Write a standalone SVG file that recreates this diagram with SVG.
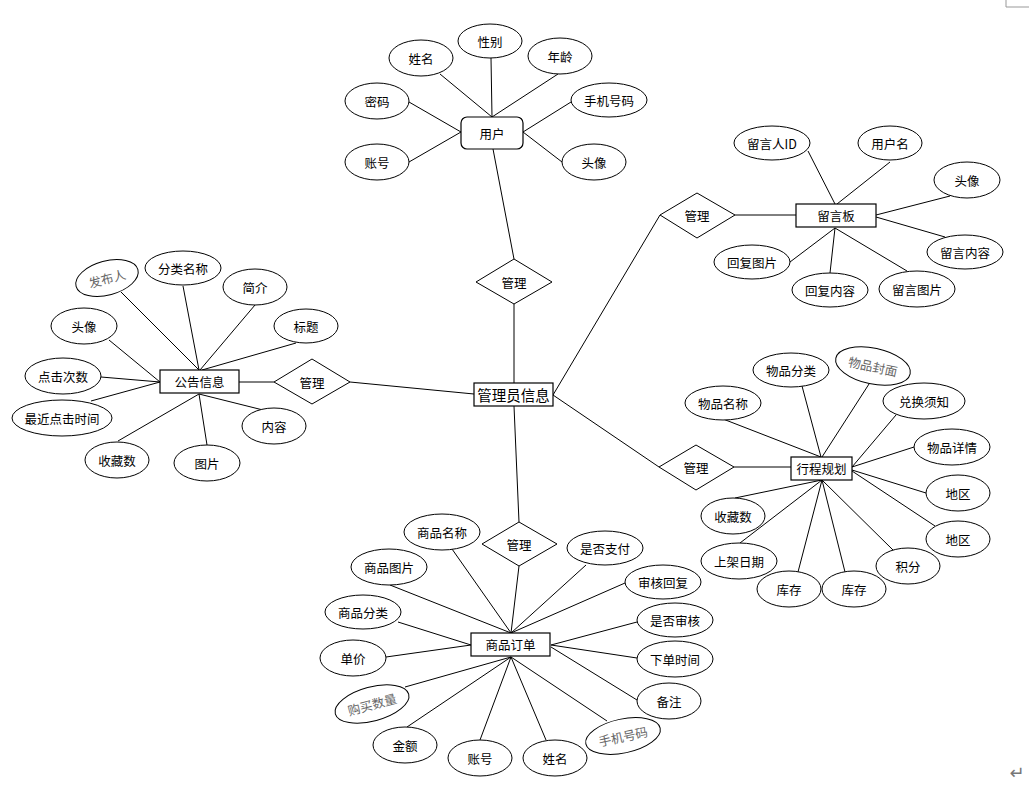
<svg xmlns="http://www.w3.org/2000/svg" width="1029" height="788" viewBox="0 0 1029 788">
<style>
text{font-family:"Noto Sans CJK SC","Noto Sans",sans-serif;font-size:12.5px;fill:#000;text-anchor:middle;dominant-baseline:central}
.e{fill:#fff;stroke:#000;stroke-width:1}
.r{fill:#fff;stroke:#000;stroke-width:1.2}
.d{fill:#fff;stroke:#000;stroke-width:1}
.g{fill:#666}
#links line{stroke:#000;stroke-width:1}
.big{font-size:14.5px}
</style>
<rect width="1029" height="788" fill="#fff"/>
<path d="M1006 0V7H1029" fill="none" stroke="#999" stroke-width="1"/>
<text x="1017" y="772" style="font-family:'DejaVu Sans',sans-serif;font-size:18px;fill:#777">↵</text>
<g id="links">
<!-- user -->
<line x1="440" y1="74" x2="492" y2="117"/>
<line x1="491" y1="58" x2="492" y2="117"/>
<line x1="558" y1="74" x2="492" y2="117"/>
<line x1="409" y1="102" x2="461" y2="132"/>
<line x1="409" y1="162" x2="461" y2="132"/>
<line x1="571" y1="102" x2="523" y2="132"/>
<line x1="562" y1="162" x2="523" y2="132"/>
<line x1="493" y1="149" x2="514" y2="259"/>
<line x1="514" y1="304" x2="514" y2="383"/>
<!-- admin -->
<line x1="350" y1="382" x2="474" y2="394"/>
<line x1="553" y1="395" x2="660" y2="215"/>
<line x1="553" y1="395" x2="659" y2="467"/>
<line x1="514" y1="406" x2="519" y2="522"/>
<!-- message board -->
<line x1="735" y1="215" x2="796" y2="215"/>
<line x1="808" y1="151" x2="835" y2="204"/>
<line x1="890" y1="162" x2="837" y2="204"/>
<line x1="950" y1="196" x2="876" y2="215"/>
<line x1="945" y1="237" x2="876" y2="217"/>
<line x1="790" y1="262" x2="835" y2="228"/>
<line x1="830" y1="273" x2="835" y2="228"/>
<line x1="907" y1="271" x2="835" y2="228"/>
<!-- notice -->
<line x1="239" y1="382" x2="274" y2="382"/>
<line x1="121" y1="292" x2="199" y2="370"/>
<line x1="183" y1="286" x2="199" y2="370"/>
<line x1="255" y1="305" x2="200" y2="370"/>
<line x1="296" y1="343" x2="202" y2="370"/>
<line x1="109" y1="340" x2="160" y2="382"/>
<line x1="101" y1="377" x2="160" y2="382"/>
<line x1="91" y1="401" x2="160" y2="382"/>
<line x1="118" y1="441" x2="199" y2="394"/>
<line x1="207" y1="445" x2="199" y2="394"/>
<line x1="263" y1="410" x2="199" y2="394"/>
<!-- itinerary -->
<line x1="734" y1="467" x2="791" y2="467"/>
<line x1="723" y1="419" x2="821" y2="457"/>
<line x1="802" y1="386" x2="821" y2="457"/>
<line x1="869" y1="384" x2="822" y2="457"/>
<line x1="896" y1="415" x2="852" y2="467"/>
<line x1="914" y1="447" x2="852" y2="467"/>
<line x1="926" y1="493" x2="852" y2="470"/>
<line x1="935" y1="526" x2="852" y2="471"/>
<line x1="735" y1="498" x2="822" y2="480"/>
<line x1="740" y1="543" x2="822" y2="480"/>
<line x1="798" y1="572" x2="822" y2="480"/>
<line x1="845" y1="572" x2="822" y2="480"/>
<line x1="893" y1="550" x2="822" y2="480"/>
<!-- order -->
<line x1="519" y1="566" x2="511" y2="633"/>
<line x1="452" y1="549" x2="511" y2="633"/>
<line x1="390" y1="585" x2="511" y2="633"/>
<line x1="586" y1="565" x2="511" y2="633"/>
<line x1="625" y1="583" x2="511" y2="633"/>
<line x1="637" y1="622" x2="551" y2="645"/>
<line x1="637" y1="658" x2="551" y2="645"/>
<line x1="637" y1="700" x2="551" y2="647"/>
<line x1="398" y1="622" x2="471" y2="645"/>
<line x1="386" y1="657" x2="471" y2="645"/>
<line x1="405" y1="687" x2="511" y2="657"/>
<line x1="407" y1="727" x2="511" y2="657"/>
<line x1="480" y1="740" x2="511" y2="657"/>
<line x1="546" y1="740" x2="511" y2="657"/>
<line x1="607" y1="721" x2="511" y2="657"/>
</g>

<!-- user cluster -->
<g id="user"><rect class="r" x="461" y="117" width="62" height="32" rx="6"/><text x="492" y="133">用户</text></g>
<g id="u-name"><ellipse class="e" cx="421" cy="58" rx="32" ry="18"/><text x="421" y="58">姓名</text></g>
<g id="u-gender"><ellipse class="e" cx="490" cy="41" rx="32" ry="17"/><text x="490" y="41">性别</text></g>
<g id="u-age"><ellipse class="e" cx="560" cy="56" rx="32" ry="18"/><text x="560" y="56">年龄</text></g>
<g id="u-pwd"><ellipse class="e" cx="377" cy="101" rx="32" ry="18"/><text x="377" y="101">密码</text></g>
<g id="u-phone"><ellipse class="e" cx="609" cy="100" rx="38" ry="17"/><text x="609" y="100">手机号码</text></g>
<g id="u-acct"><ellipse class="e" cx="377" cy="162" rx="32" ry="18"/><text x="377" y="162">账号</text></g>
<g id="u-avatar"><ellipse class="e" cx="594" cy="162" rx="32" ry="18"/><text x="594" y="162">头像</text></g>
<g id="rel-user"><polygon class="d" points="476,282 514,259 552,282 514,304"/><text x="514" y="282">管理</text></g>

<!-- admin -->
<g id="admin"><rect class="r" x="474" y="383" width="79" height="23"/><text class="big" x="513.5" y="394.5">管理员信息</text></g>

<!-- message board -->
<g id="rel-board"><polygon class="d" points="660,215 697,193 735,215 697,238"/><text x="697" y="215">管理</text></g>
<g id="board"><rect class="r" x="796" y="204" width="80" height="23"/><text x="836" y="215.5">留言板</text></g>
<g id="b-uid"><ellipse class="e" cx="772" cy="143" rx="38" ry="17"/><text x="772" y="143">留言人ID</text></g>
<g id="b-uname"><ellipse class="e" cx="890" cy="143" rx="32" ry="17"/><text x="890" y="143">用户名</text></g>
<g id="b-avatar"><ellipse class="e" cx="967" cy="180" rx="33" ry="18"/><text x="967" y="180">头像</text></g>
<g id="b-content"><ellipse class="e" cx="965" cy="252" rx="38" ry="17"/><text x="965" y="252">留言内容</text></g>
<g id="b-rimg"><ellipse class="e" cx="752" cy="262" rx="38" ry="17"/><text x="752" y="262">回复图片</text></g>
<g id="b-rcontent"><ellipse class="e" cx="830" cy="290" rx="38" ry="17"/><text x="830" y="290">回复内容</text></g>
<g id="b-img"><ellipse class="e" cx="917" cy="289" rx="38" ry="18"/><text x="917" y="289">留言图片</text></g>

<!-- notice -->
<g id="notice"><rect class="r" x="160" y="370" width="79" height="23"/><text x="199.5" y="381.5">公告信息</text></g>
<g id="rel-notice"><polygon class="d" points="274,382 312,359 350,382 312,404"/><text x="312" y="382">管理</text></g>
<g id="n-pub" transform="rotate(-15 107 278)"><ellipse class="e" cx="107" cy="278" rx="32" ry="17"/><text class="g" x="107" y="278">发布人</text></g>
<g id="n-cat"><ellipse class="e" cx="183" cy="268" rx="38" ry="17"/><text x="183" y="268">分类名称</text></g>
<g id="n-intro"><ellipse class="e" cx="255" cy="287" rx="32" ry="18"/><text x="255" y="287">简介</text></g>
<g id="n-title"><ellipse class="e" cx="306" cy="326" rx="32" ry="17"/><text x="306" y="326">标题</text></g>
<g id="n-avatar"><ellipse class="e" cx="84" cy="326" rx="33" ry="18"/><text x="84" y="326">头像</text></g>
<g id="n-clicks"><ellipse class="e" cx="63" cy="376" rx="38" ry="18"/><text x="63" y="376">点击次数</text></g>
<g id="n-last"><ellipse class="e" cx="62" cy="418" rx="50" ry="18"/><text x="62" y="418">最近点击时间</text></g>
<g id="n-fav"><ellipse class="e" cx="117" cy="460" rx="32" ry="18"/><text x="117" y="460">收藏数</text></g>
<g id="n-img"><ellipse class="e" cx="207" cy="463" rx="33" ry="18"/><text x="207" y="463">图片</text></g>
<g id="n-content"><ellipse class="e" cx="274" cy="426" rx="32" ry="18"/><text x="274" y="426">内容</text></g>

<!-- itinerary -->
<g id="rel-trip"><polygon class="d" points="659,467 696,445 734,467 696,490"/><text x="696" y="467">管理</text></g>
<g id="trip"><rect class="r" x="791" y="457" width="61" height="23"/><text x="821.5" y="468.5">行程规划</text></g>
<g id="t-cat"><ellipse class="e" cx="791" cy="370" rx="38" ry="17"/><text x="791" y="370">物品分类</text></g>
<g id="t-cover" transform="rotate(12 873 366)"><ellipse class="e" cx="873" cy="366" rx="38" ry="18"/><text class="g" x="873" y="366">物品封面</text></g>
<g id="t-name"><ellipse class="e" cx="723" cy="403" rx="38" ry="17"/><text x="723" y="403">物品名称</text></g>
<g id="t-notice"><ellipse class="e" cx="924" cy="401" rx="41" ry="18"/><text x="924" y="401">兑换须知</text></g>
<g id="t-detail"><ellipse class="e" cx="952" cy="447" rx="38" ry="18"/><text x="952" y="447">物品详情</text></g>
<g id="t-region1"><ellipse class="e" cx="958" cy="493" rx="32" ry="18"/><text x="958" y="493">地区</text></g>
<g id="t-region2"><ellipse class="e" cx="958" cy="539" rx="32" ry="18"/><text x="958" y="539">地区</text></g>
<g id="t-points"><ellipse class="e" cx="908" cy="566" rx="32" ry="18"/><text x="908" y="566">积分</text></g>
<g id="t-stock2"><ellipse class="e" cx="854" cy="589" rx="32" ry="18"/><text x="854" y="589">库存</text></g>
<g id="t-stock1"><ellipse class="e" cx="789" cy="589" rx="32" ry="18"/><text x="789" y="589">库存</text></g>
<g id="t-date"><ellipse class="e" cx="739" cy="561" rx="38" ry="18"/><text x="739" y="561">上架日期</text></g>
<g id="t-fav"><ellipse class="e" cx="733" cy="516" rx="32" ry="18"/><text x="733" y="516">收藏数</text></g>

<!-- order -->
<g id="rel-order"><polygon class="d" points="482,544 519,522 557,544 519,566"/><text x="519" y="544">管理</text></g>
<g id="order"><rect class="r" x="471" y="633" width="79" height="23"/><text x="510.5" y="644.5">商品订单</text></g>
<g id="o-name"><ellipse class="e" cx="442" cy="532" rx="38" ry="18"/><text x="442" y="532">商品名称</text></g>
<g id="o-paid"><ellipse class="e" cx="605" cy="548" rx="38" ry="17"/><text x="605" y="548">是否支付</text></g>
<g id="o-img"><ellipse class="e" cx="389" cy="567" rx="38" ry="18"/><text x="389" y="567">商品图片</text></g>
<g id="o-reply"><ellipse class="e" cx="663" cy="582" rx="38" ry="17"/><text x="663" y="582">审核回复</text></g>
<g id="o-cat"><ellipse class="e" cx="363" cy="612" rx="38" ry="17"/><text x="363" y="612">商品分类</text></g>
<g id="o-audited"><ellipse class="e" cx="675" cy="620" rx="38" ry="17"/><text x="675" y="620">是否审核</text></g>
<g id="o-price"><ellipse class="e" cx="353" cy="658" rx="33" ry="18"/><text x="353" y="658">单价</text></g>
<g id="o-time"><ellipse class="e" cx="675" cy="659" rx="38" ry="18"/><text x="675" y="659">下单时间</text></g>
<g id="o-qty" transform="rotate(-15 372 704)"><ellipse class="e" cx="372" cy="704" rx="38" ry="17"/><text class="g" x="372" y="704">购买数量</text></g>
<g id="o-note"><ellipse class="e" cx="669" cy="701" rx="32" ry="18"/><text x="669" y="701">备注</text></g>
<g id="o-amount"><ellipse class="e" cx="405" cy="745" rx="32" ry="18"/><text x="405" y="745">金额</text></g>
<g id="o-phone" transform="rotate(-12 623 736)"><ellipse class="e" cx="623" cy="736" rx="38" ry="17"/><text class="g" x="623" y="736">手机号码</text></g>
<g id="o-acct"><ellipse class="e" cx="480" cy="758" rx="32" ry="18"/><text x="480" y="758">账号</text></g>
<g id="o-uname"><ellipse class="e" cx="555" cy="758" rx="32" ry="18"/><text x="555" y="758">姓名</text></g>
</svg>
